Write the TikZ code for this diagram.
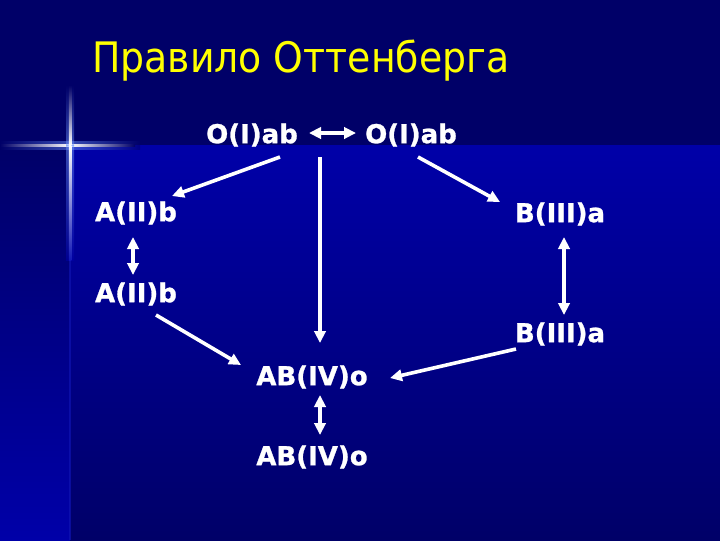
\documentclass[tikz,border=0pt]{standalone}
\usepackage{fontspec}
\setmainfont{DejaVu Sans}
\newfontfamily\lblfont[FakeBold=1]{DejaVu Sans Bold}
\usetikzlibrary{arrows.meta,calc}
\definecolor{bgdark}{RGB}{0,0,104}
\definecolor{bgbright}{RGB}{0,0,168}
\definecolor{glowblue}{RGB}{110,150,255}
\definecolor{titleyellow}{RGB}{255,255,0}
\begin{document}
\begin{tikzpicture}[x=0.75pt,y=-0.75pt,
  lbl/.style={text=white,font=\lblfont\fontsize{19.5}{22}\selectfont,inner sep=0pt},
  arr/.style={draw=white,line width=2.7pt,-{Triangle[length=9pt,width=8.5pt]}},
  darr/.style={draw=white,line width=2.7pt,{Triangle[length=9pt,width=8.5pt]}-{Triangle[length=9pt,width=8.5pt]}}]
% background
\useasboundingbox (0,0) rectangle (720,540);
\fill[bgdark] (0,0) rectangle (720,540);
\shade[top color=bgbright,bottom color=bgdark] (70,145) rectangle (720,540);
\shade[top color=bgdark,bottom color=bgbright] (0,145) rectangle (70,540);
% glow cross
\shade[left color=bgdark,right color=glowblue,opacity=0.5] (0,141) rectangle (70,149);
\shade[left color=glowblue,right color=bgdark,opacity=0.5] (70,141) rectangle (140,149);
\shade[left color=bgdark,right color=white] (0,144) rectangle (70,146.5);
\shade[left color=white,right color=bgdark] (70,144) rectangle (135,146.5);
\shade[top color=bgdark,bottom color=glowblue,opacity=0.5] (66,85) rectangle (74,145);
\shade[top color=glowblue,bottom color=bgbright,opacity=0.5] (66,145) rectangle (74,260);
\shade[top color=bgdark,bottom color=white] (68.8,85) rectangle (71.3,145);
\shade[top color=white,bottom color=bgbright!85!glowblue] (68.8,145) rectangle (71.3,260);
\fill[bgbright!85!glowblue,opacity=0.6] (68.8,260) rectangle (71.3,540);
% title
\node[anchor=base west,inner sep=0pt,text=titleyellow,font=\fontsize{31.5}{36}\selectfont] (title) at (92,72) {\scalebox{0.9}[1]{Правило Оттенберга}};
% nodes
\node[lbl] (o1) at (252,135) {O(I)ab};
\node[lbl] (o2) at (411,135) {O(I)ab};
\node[lbl] (a1) at (136,213) {A(II)b};
\node[lbl] (b1) at (560,214) {B(III)a};
\node[lbl] (a2) at (136,294) {A(II)b};
\node[lbl] (b2) at (560,334) {B(III)a};
\node[lbl] (ab1) at (312,377) {AB(IV)o};
\node[lbl] (ab2) at (312,457) {AB(IV)o};
% connectors
\draw[darr] ($(o1)+(57,-2)$) -- ($(o2)+(-55,-2)$);
\draw[arr] ($(o1)+(28,22)$) -- ($(a1)+(36,-17)$);
\draw[arr] ($(o2)+(7,22)$) -- ($(b1)+(-60,-12)$);
\draw[arr] ($(ab1)+(8,-220)$) -- ($(ab1)+(8,-34)$);
\draw[darr] ($(a1)+(-3,24)$) -- ($(a2)+(-3,-19)$);
\draw[darr] ($(b1)+(4,23)$) -- ($(b2)+(4,-19)$);
\draw[arr] ($(a2)+(20,21)$) -- ($(ab1)+(-71,-12)$);
\draw[arr] ($(b2)+(-44,15)$) -- ($(ab1)+(78,1)$);
\draw[darr] ($(ab1)+(8,18)$) -- ($(ab2)+(8,-22)$);
\end{tikzpicture}
\end{document}
